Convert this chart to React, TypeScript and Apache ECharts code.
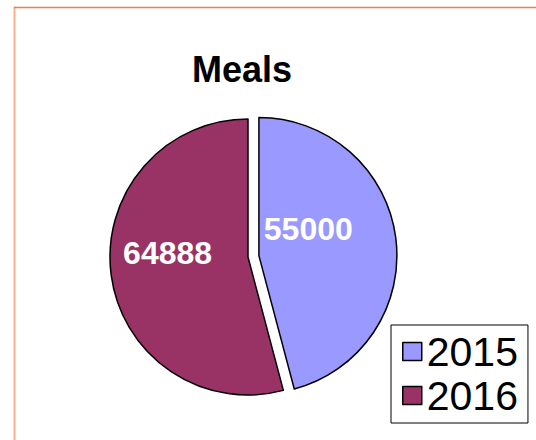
import React, { useEffect, useRef } from "react";
import * as echarts from "echarts";

const titleText = "Meals";
const categories = ["2015", "2016"];
const values = [55000, 64888];
const colors = ["#9999FF", "#993366"];

export default function App() {
  const ref = useRef<HTMLDivElement>(null);
  useEffect(() => {
    const chart = echarts.init(ref.current!, null, { renderer: "svg" });
    const labelShift = [
      [-22, -17],
      [-9, -13],
    ];
    chart.setOption({
      animation: false,
      backgroundColor: "#ffffff",
      title: {
        text: titleText,
        left: 237,
        textAlign: "center",
        top: 46,
        textStyle: { fontFamily: "Liberation Sans, Arial", fontWeight: "bold", fontSize: 36, color: "#000" },
      },
      legend: {
        orient: "vertical",
        left: 391,
        top: 325,
        padding: [6, 10, 7, 11],
        itemGap: 3,
        itemWidth: 19,
        itemHeight: 18,
        icon: "rect",
        borderColor: "#000",
        borderWidth: 1,
        backgroundColor: "#fff",
        data: categories,
        textStyle: { fontFamily: "Liberation Sans, Arial", fontSize: 41, color: "#000" },
        itemStyle: { borderColor: "#000", borderWidth: 1.5 },
      },
      graphic: [
        { type: "line", shape: { x1: 14.5, y1: 7, x2: 14.5, y2: 440 }, style: { stroke: "#FFB08A", lineWidth: 2 } },
        { type: "line", shape: { x1: 14, y1: 7.5, x2: 536, y2: 7.5 }, style: { stroke: "#F47A48", lineWidth: 1.5 } },
      ],
      series: [
        {
          type: "pie",
          center: [248, 257],
          radius: 138,
          startAngle: 90,
          clockwise: true,
          selectedMode: "single",
          selectedOffset: 11,
          emphasis: { disabled: true },
          itemStyle: { borderColor: "#000", borderWidth: 1.5 },
          label: {
            show: true,
            position: "inside",
            formatter: "{c}",
            color: "#fff",
            fontFamily: "Liberation Sans, Arial",
            fontWeight: "bold",
            fontSize: 32,
          },
          labelLayout: (p: any) => ({ dx: labelShift[p.dataIndex][0], dy: labelShift[p.dataIndex][1] }),
          data: categories.map((c, i) => ({
            name: c,
            value: values[i],
            selected: i === 0,
            itemStyle: { color: colors[i] },
          })),
        },
      ],
    });
    return () => chart.dispose();
  }, []);
  return <div ref={ref} style={{ position: "fixed", left: 0, top: 0, width: 536, height: 440 }} />;
}
